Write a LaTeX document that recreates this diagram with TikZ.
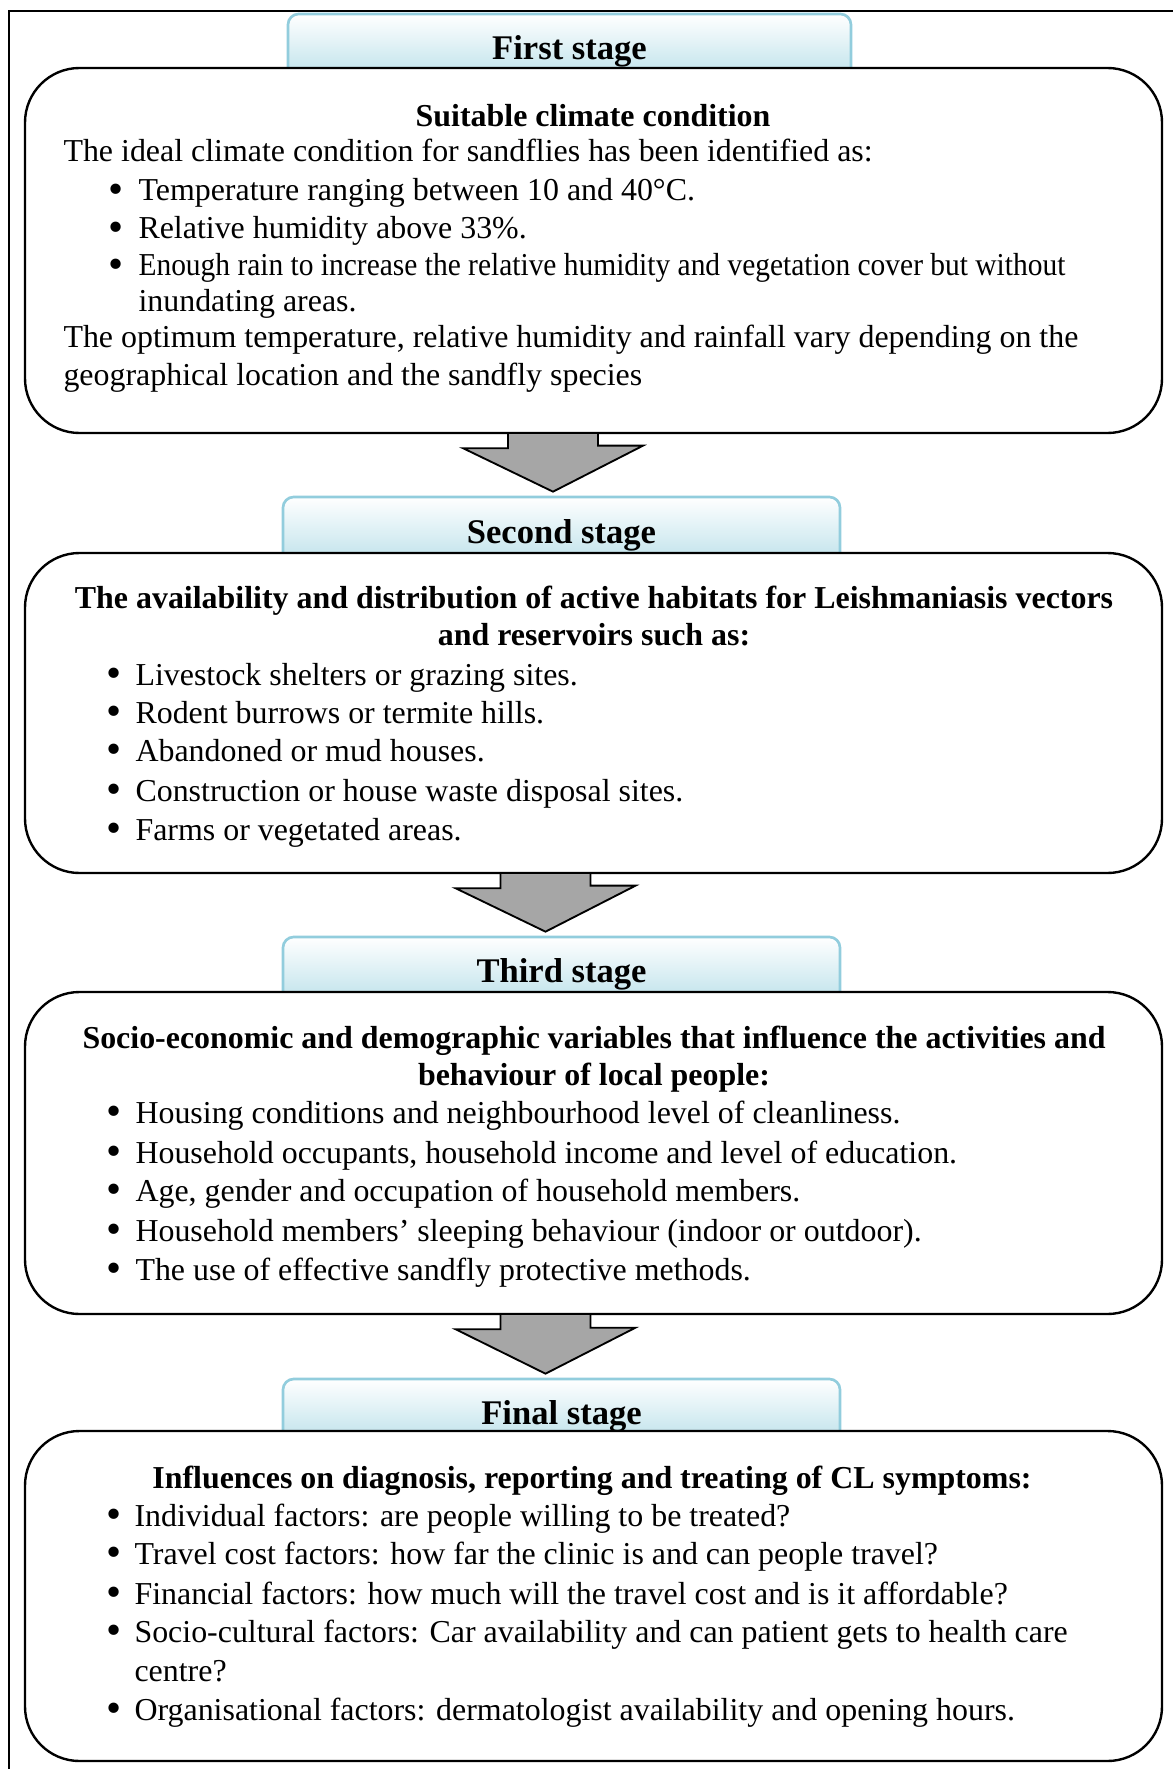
\documentclass[tikz,border=0pt]{standalone}
\usepackage{fontspec}
\setmainfont{Liberation Serif}
\usetikzlibrary{fit,calc}

\definecolor{tabbottom}{RGB}{188,225,234}
\definecolor{tabedge}{RGB}{146,205,221}
\definecolor{arrowfill}{RGB}{166,166,166}

\tikzset{
  stagebox/.style={draw, fill=white, line width=0.9pt, rounded corners=20.5pt, inner sep=0pt},
  stagetab/.style={draw=tabedge, line width=1pt, top color=white, bottom color=tabbottom, rounded corners=4pt, inner sep=0pt},
  bigarrow/.style={draw, fill=arrowfill, line width=0.7pt},
  tabtext/.style={anchor=base, inner sep=0pt, font=\fontsize{13}{15}\selectfont\bfseries},
  headtext/.style={anchor=base, inner sep=0pt, font=\fontsize{12}{14}\selectfont\bfseries},
  bodytext/.style={anchor=base west, inner sep=0pt, font=\fontsize{12}{14}\selectfont},
  dot/.style={anchor=base, inner sep=0pt, font=\fontsize{12}{14}\selectfont},
}

% one bullet line: name, bullet x, text x, baseline y, text
\newcommand{\bulletline}[5]{%
  \node[dot] (#1d) at (#2,#4) {\smash{\raisebox{-0.07em}{\scalebox{1.35}{\textbullet}}}};
  \node[bodytext] (#1) at (#3,#4) {#5};}

% block arrow from the box above to the tab below, centred at x
\newcommand{\stagearrow}[3]{%
  \draw[bigarrow] ({#3-45},0 |- #1.south) -- ++(0,14) -- ++(-45,0)
    -- ($({#3},0 |- #2.north)+(0,-4)$) -- ++(90,-46) -- ++(-45,0)
    -- ({#3+45},0 |- #1.south);}

\begin{document}
\begin{tikzpicture}[x=0.376pt, y=-0.376pt]
  \useasboundingbox (0,0) rectangle (1173,1769);

  % outer frame, only the top and left edges are on the page
  \draw[line width=1.1pt] (9,1769) -- (9,11) -- (1173,11);

  % first stage
  \node[stagetab, fit={(288,14) (851,80)}] (tab1) {};
  \node[stagebox, fit={(25,68) (1162,433)}] (box1) {};
  \node[tabtext] (t1) at (569.5,60) {First stage};
  \node[headtext] (h1) at (593,127) {Suitable climate condition};
  \node[bodytext] (p1) at (63,162) {The ideal climate condition for sandflies has been identified as:};
  \bulletline{b1a}{116}{138}{201}{Temperature ranging between 10 and 40°C.}
  \bulletline{b1b}{116}{138}{239}{Relative humidity above 33\%.}
  \bulletline{b1c}{116}{138}{276}{\scalebox{0.923}[1]{Enough rain to increase the relative humidity and vegetation cover but without}}
  \node[bodytext] (b1cc) at (138,312) {inundating areas.};
  \node[bodytext] (p2) at (63,348) {The optimum temperature, relative humidity and rainfall vary depending on the};
  \node[bodytext] (p3) at (63,386) {geographical location and the sandfly species};

  % second stage
  \node[stagetab, fit={(283,497) (840,565)}] (tab2) {};
  \node[stagebox, fit={(25,553) (1162,873)}] (box2) {};
  \node[tabtext] (t2) at (561.5,543) {Second stage};
  \node[headtext] (h2a) at (594,608) {The availability and distribution of active habitats for Leishmaniasis vectors};
  \node[headtext] (h2b) at (594,645) {and reservoirs such as:};
  \bulletline{b2a}{114}{135}{685}{Livestock shelters or grazing sites.}
  \bulletline{b2b}{114}{135}{723}{Rodent burrows or termite hills.}
  \bulletline{b2c}{114}{135}{761}{Abandoned or mud houses.}
  \bulletline{b2d}{114}{135}{801}{Construction or house waste disposal sites.}
  \bulletline{b2e}{114}{135}{840}{Farms or vegetated areas.}

  % third stage
  \node[stagetab, fit={(283,937) (840,1004)}] (tab3) {};
  \node[stagebox, fit={(25,992) (1162,1314)}] (box3) {};
  \node[tabtext] (t3) at (561.5,982) {Third stage};
  \node[headtext] (h3a) at (594,1048) {Socio-economic and demographic variables that influence the activities and};
  \node[headtext] (h3b) at (594,1085) {behaviour of local people:};
  \bulletline{b3a}{114}{135}{1123}{Housing conditions and neighbourhood level of cleanliness.}
  \bulletline{b3b}{114}{135}{1163}{Household occupants, household income and level of education.}
  \bulletline{b3c}{114}{135}{1201}{Age, gender and occupation of household members.}
  \bulletline{b3d}{114}{135}{1241}{Household members’ sleeping behaviour (indoor or outdoor).}
  \bulletline{b3e}{114}{135}{1280}{The use of effective sandfly protective methods.}

  % final stage
  \node[stagetab, fit={(283,1379) (840,1443)}] (tab4) {};
  \node[stagebox, fit={(25,1431) (1162,1761)}] (box4) {};
  \node[tabtext] (t4) at (561.5,1424) {Final stage};
  \node[headtext] (h4) at (592,1488) {Influences on diagnosis, reporting and treating of CL symptoms:};
  \bulletline{b4a}{114}{134}{1526}{Individual factors: are people willing to be treated?}
  \bulletline{b4b}{114}{134}{1564}{Travel cost factors: how far the clinic is and can people travel?}
  \bulletline{b4c}{114}{134}{1604}{Financial factors: how much will the travel cost and is it affordable?}
  \bulletline{b4d}{114}{134}{1642}{Socio-cultural factors: Car availability and can patient gets to health care}
  \node[bodytext] (b4dd) at (134,1681) {centre?};
  \bulletline{b4e}{114}{134}{1720}{Organisational factors: dermatologist availability and opening hours.}

  % arrows between the stages
  \stagearrow{box1}{tab2}{553}
  \stagearrow{box2}{tab3}{545.5}
  \stagearrow{box3}{tab4}{545.5}

\end{tikzpicture}
\end{document}
